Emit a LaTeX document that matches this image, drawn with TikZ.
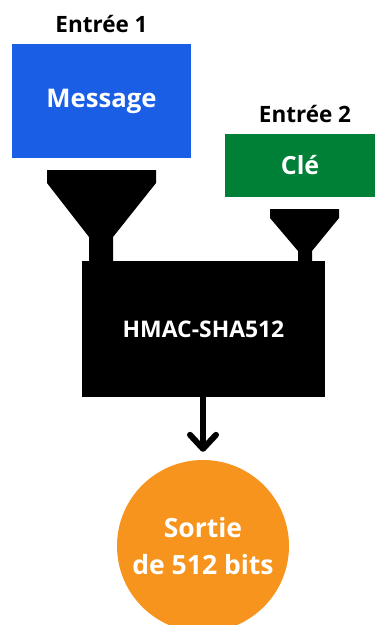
\documentclass[tikz,border=0pt]{standalone}
\usepackage{fontspec}
\setmainfont{Open Sans}
\usetikzlibrary{arrows.meta}
\definecolor{msgblue}{RGB}{26,94,230}
\definecolor{keygreen}{RGB}{0,128,55}
\definecolor{outorange}{RGB}{247,148,30}
\tikzset{
  caption/.style={font=\bfseries\fontsize{22.5}{26}\selectfont, text=black, inner sep=0pt},
  inbox/.style={inner sep=0pt, text=white, font=\bfseries\fontsize{25.7}{30}\selectfont},
  funnel/.style={fill=black},
}
\begin{document}
\begin{tikzpicture}[x=1pt,y=-1pt]
  \useasboundingbox (0,0) rectangle (375,625);
  \clip (0,0) rectangle (375,625);
  % input labels
  \node[caption] (lab1) at (101.5,24) {Entrée 1};
  \node[caption] (lab2) at (305,114) {Entrée 2};
  % input boxes
  \node[inbox, fill=msgblue, minimum width=179pt, minimum height=114pt] (msg) at (101.5,101) {Message};
  \node[inbox, fill=keygreen, minimum width=150pt, minimum height=63pt, font=\bfseries\fontsize{25}{28}\selectfont] (key) at (300,165.5) {Clé};
  % funnels feeding the main block
  \fill[funnel] (47,170) -- (156,170) -- (156,183) -- (113,237) -- (113,270) -- (89,270) -- (89,237) -- (47,183) -- cycle;
  \fill[funnel] (270,209) -- (339,209) -- (339,218) -- (312,251) -- (312,270) -- (298,270) -- (298,251) -- (270,218) -- cycle;
  % main block
  \node[fill=black, text=white, inner sep=0pt, minimum width=243pt, minimum height=136pt,
        font=\bfseries\fontsize{22.9}{26}\selectfont] (hmac) at (203.5,329) {HMAC-SHA512};
  % output
  \node[circle, fill=outorange, inner sep=0pt, minimum size=172pt, text=white, align=center,
        font=\bfseries\fontsize{26.5}{37}\selectfont] (out) at (203,546) {Sortie\\de 512 bits};
  \draw[line width=6pt, -{Straight Barb[length=14pt, width=26pt, line cap=round, line join=round]}]
    (hmac.south -| out.north) -- ([yshift=8pt]out.north);
\end{tikzpicture}
\end{document}
